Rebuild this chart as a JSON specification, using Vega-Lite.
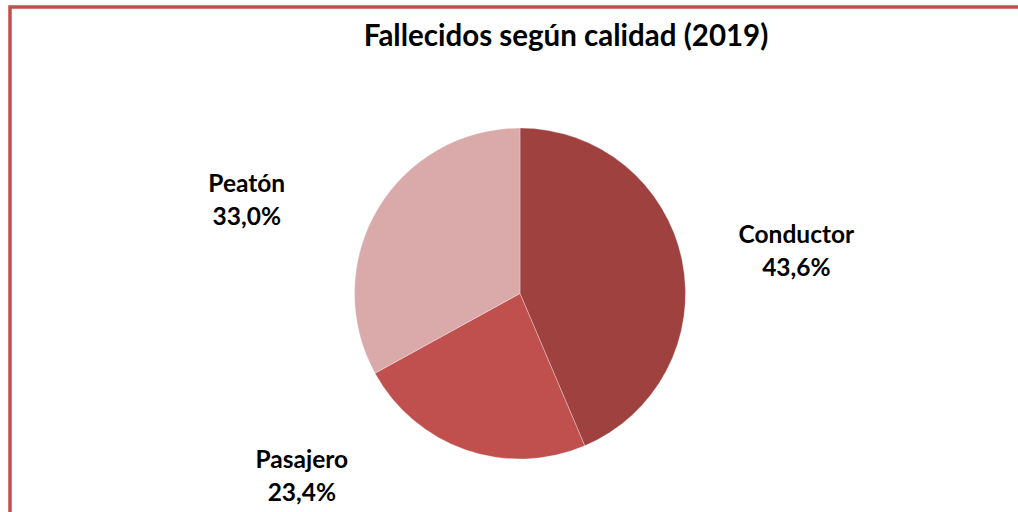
{
  "$schema": "https://vega.github.io/schema/vega-lite/v6.json",
  "width": 1020,
  "height": 573,
  "autosize": "none",
  "padding": {"left": 10, "top": 7, "right": -12, "bottom": -68},
  "background": "white",
  "config": {
    "view": {"stroke": null},
    "font": "Lato"
  },
  "title": {
    "text": "Fallecidos según calidad (2019)",
    "font": "Lato",
    "fontSize": 29.5,
    "fontWeight": "bold",
    "color": "#000000",
    "anchor": "middle",
    "frame": "group",
    "offset": -47,
    "dx": 46
  },
  "data": {
    "values": [
      {"calidad": "Conductor", "valor": 43.6, "orden": 1, "etiqueta": "Conductor\n43,6%"},
      {"calidad": "Pasajero", "valor": 23.4, "orden": 2, "etiqueta": "Pasajero\n23,4%"},
      {"calidad": "Peatón", "valor": 33.0, "orden": 3, "etiqueta": "Peatón\n33,0%"}
    ]
  },
  "layer": [
    {
      "data": {"values": [{"marco": "borde"}]},
      "mark": {"type": "rect", "filled": false, "stroke": "#C0504D", "strokeWidth": 3.5},
      "encoding": {}
    },
    {
      "mark": {"type": "arc", "outerRadius": 165.5, "stroke": "#ffffff", "strokeWidth": 0.6, "strokeOpacity": 0.5},
      "encoding": {
        "theta": {"field": "valor", "type": "quantitative", "stack": true},
        "order": {"field": "orden", "type": "quantitative"},
        "color": {
          "field": "calidad",
          "type": "nominal",
          "scale": {"domain": ["Conductor", "Pasajero", "Peatón"], "range": ["#9E413F", "#C0504D", "#D9AAA9"]},
          "legend": null
        }
      }
    },
    {
      "mark": {"type": "text", "radius": 280, "dx": 2, "dy": 5.4, "align": "center", "baseline": "alphabetic", "lineBreak": "\n", "lineHeight": 33, "fontSize": 24.5, "fontWeight": "bold", "font": "Lato", "color": "#000000"},
      "encoding": {
        "theta": {"field": "valor", "type": "quantitative", "stack": true},
        "order": {"field": "orden", "type": "quantitative"},
        "text": {"condition": {"test": "datum.calidad === 'Conductor'", "field": "etiqueta"}, "value": ""}
      }
    },
    {
      "mark": {"type": "text", "radius": 287, "dx": -26.2, "dy": 44.1, "align": "center", "baseline": "alphabetic", "lineBreak": "\n", "lineHeight": 33, "fontSize": 24.5, "fontWeight": "bold", "font": "Lato", "color": "#000000"},
      "encoding": {
        "theta": {"field": "valor", "type": "quantitative", "stack": true},
        "order": {"field": "orden", "type": "quantitative"},
        "text": {"condition": {"test": "datum.calidad === 'Peatón'", "field": "etiqueta"}, "value": ""}
      }
    },
    {
      "mark": {"type": "text", "radius": 236, "dx": -141, "dy": -48.5, "align": "center", "baseline": "alphabetic", "lineBreak": "\n", "lineHeight": 33, "fontSize": 24.5, "fontWeight": "bold", "font": "Lato", "color": "#000000"},
      "encoding": {
        "theta": {"field": "valor", "type": "quantitative", "stack": true},
        "order": {"field": "orden", "type": "quantitative"},
        "text": {"condition": {"test": "datum.calidad === 'Pasajero'", "field": "etiqueta"}, "value": ""}
      }
    }
  ]
}
